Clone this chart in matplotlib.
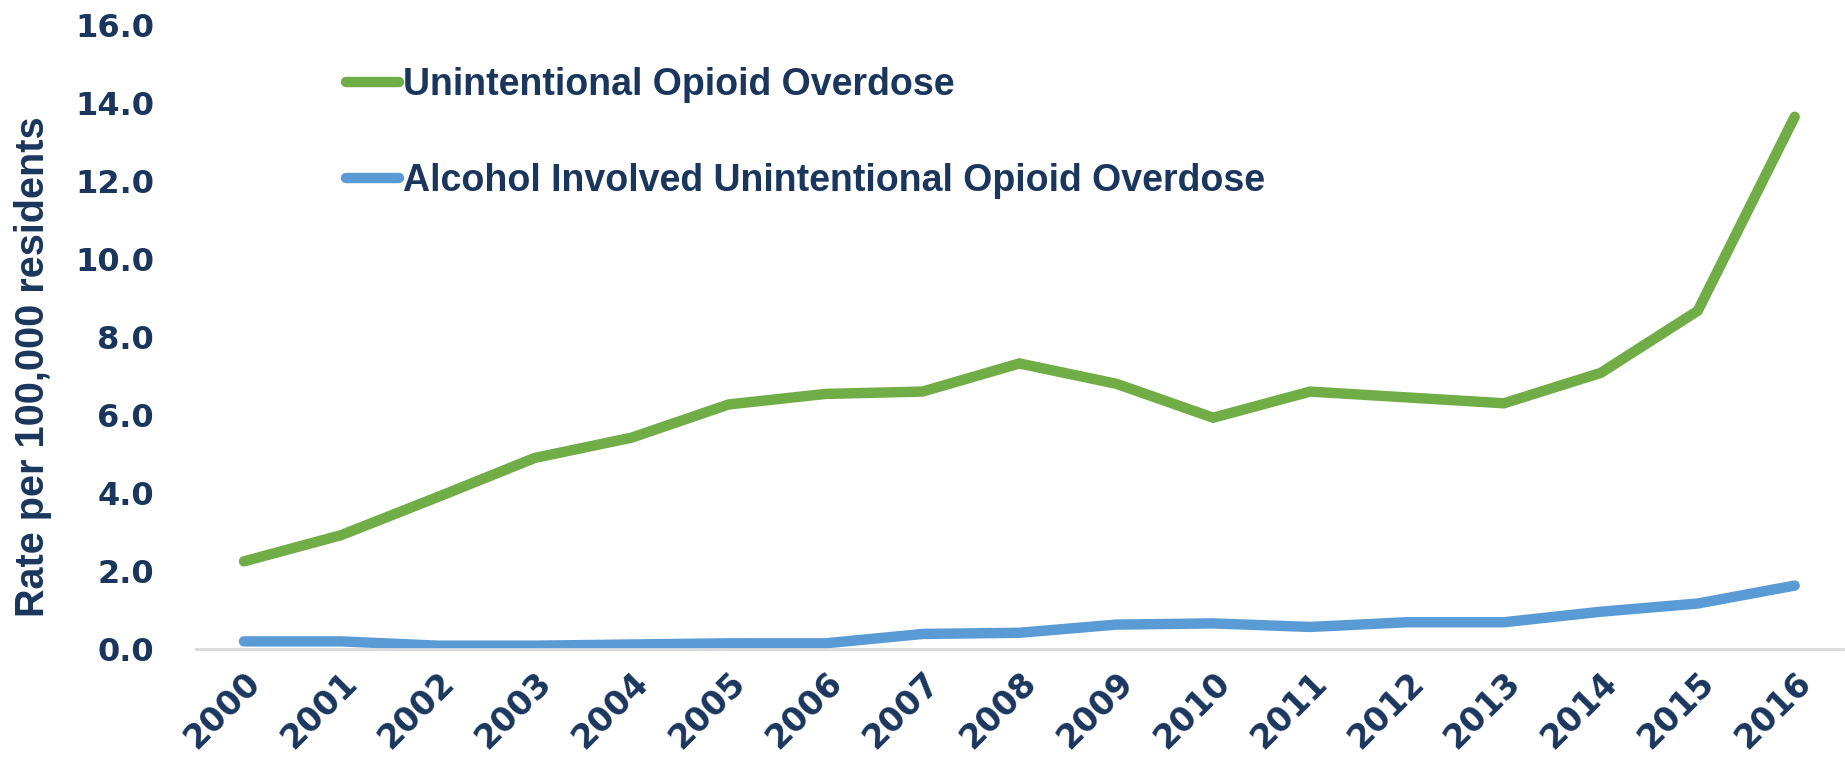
import matplotlib.pyplot as plt

years = [str(y) for y in range(2000, 2017)]
opioid = [2.25, 2.92, 3.9, 4.9, 5.42, 6.27, 6.54, 6.6, 7.32, 6.8, 5.93, 6.6, 6.45, 6.3, 7.08, 8.67, 13.64]
alcohol = [0.2, 0.2, 0.09, 0.09, 0.12, 0.15, 0.15, 0.39, 0.42, 0.63, 0.66, 0.57, 0.69, 0.69, 0.96, 1.17, 1.63]

navy = "#1B365D"
green = "#70AD47"
blue = "#5B9BD5"
narrow = ["Liberation Sans", "DejaVu Sans"]

fig = plt.figure(figsize=(18.45, 7.71), dpi=100)
ax = fig.add_axes([0.106, 0.158, 0.893, 0.81])

x = range(len(years))
ax.plot(x, opioid, color=green, lw=7.5, solid_capstyle="round", solid_joinstyle="miter",
        label="Unintentional Opioid Overdose")
ax.plot(x, alcohol, color=blue, lw=7.5, solid_capstyle="round", solid_joinstyle="miter",
        label="Alcohol Involved Unintentional Opioid Overdose")

ax.set_xlim(-0.5, len(years) - 0.5)
ax.set_ylim(0, 16)
ax.set_yticks([0, 2, 4, 6, 8, 10, 12, 14, 16])
ax.set_yticklabels([f"{v:.1f}" for v in range(0, 17, 2)])
ax.set_xticks(list(x))
ax.set_xticklabels(years, rotation=45, ha="right", va="top", rotation_mode="anchor")

for lab in ax.get_yticklabels():
    lab.set_fontsize(23)
    lab.set_fontweight("bold")
    lab.set_color(navy)
for lab in ax.get_xticklabels():
    lab.set_fontsize(24)
    lab.set_fontweight("bold")
    lab.set_color(navy)
ax.tick_params(length=0)
ax.tick_params(axis="y", pad=30)
ax.tick_params(axis="x", pad=12)

for s in ["top", "right", "left"]:
    ax.spines[s].set_visible(False)
ax.spines["bottom"].set_color("#D9D9D9")
ax.spines["bottom"].set_linewidth(2)

ax.set_ylabel("Rate per 100,000 residents", fontsize=28.5, fontweight="bold",
              color=navy, family=narrow)
ax.yaxis.set_label_coords(-0.087, 0.452)

leg = ax.legend(loc="upper left", bbox_to_anchor=(0.071, 0.986), frameon=False,
                handlelength=1.4, handletextpad=0.1, labelspacing=1.6,
                prop={"family": narrow, "weight": "bold", "size": 27})
for t in leg.get_texts():
    t.set_color(navy)

fig.savefig("out.png", dpi=100)
